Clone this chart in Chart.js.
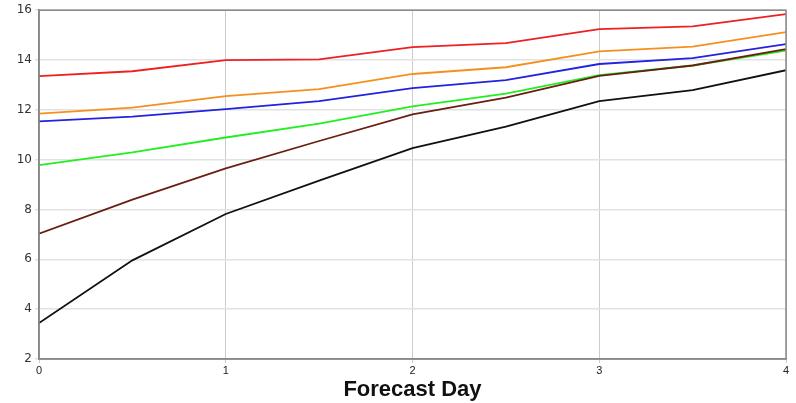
<!DOCTYPE html>
<html>
<head>
<meta charset="utf-8">
<script src="https://cdn.jsdelivr.net/npm/chart.js@4/dist/chart.umd.min.js"></script>
<style>
  html, body { margin: 0; padding: 0; background: #fff; }
  #wrap { width: 796px; height: 403px; }
</style>
</head>
<body>
<div id="wrap"><canvas id="myChart" width="796" height="403"></canvas></div>
<script>
const days = [0, 0.5, 1, 1.5, 2, 2.5, 3, 3.5, 4];
const redVals = [13.35, 13.55, 14.0, 14.03, 14.52, 14.68, 15.24, 15.35, 15.84];
const orangeVals = [11.85, 12.09, 12.55, 12.83, 13.44, 13.71, 14.35, 14.54, 15.12];
const blueVals = [11.54, 11.73, 12.03, 12.35, 12.87, 13.19, 13.84, 14.08, 14.64];
const greenVals = [9.78, 10.29, 10.89, 11.45, 12.14, 12.65, 13.39, 13.78, 14.38];
const brownVals = [7.03, 8.4, 9.65, 10.75, 11.82, 12.49, 13.36, 13.78, 14.44];
const blackVals = [3.44, 5.96, 7.82, 9.16, 10.46, 11.33, 12.35, 12.79, 13.59];

function pts(vals) {
  return vals.map((v, i) => ({ x: days[i], y: v }));
}

// frame around the plot area (top + right edges too)
const frame = {
  id: 'frame',
  afterDraw(chart) {
    const a = chart.chartArea;
    const ctx = chart.ctx;
    ctx.save();
    ctx.strokeStyle = '#888';
    ctx.lineWidth = 1.5;
    ctx.strokeRect(a.left, a.top, a.right - a.left, a.bottom - a.top);
    ctx.restore();
  }
};

const ctx = document.getElementById('myChart').getContext('2d');
const lineSet = (label, vals, color) => ({
  label: label,
  data: pts(vals),
  borderColor: color,
  borderWidth: 1.8,
  pointRadius: 0,
  tension: 0,
  fill: false
});

new Chart(ctx, {
  type: 'line',
  data: {
    datasets: [
      lineSet('black', blackVals, '#111111'),
      lineSet('brown', brownVals, '#6a1f14'),
      lineSet('green', greenVals, '#22ee22'),
      lineSet('blue', blueVals, '#2222e0'),
      lineSet('orange', orangeVals, '#f5901e'),
      lineSet('red', redVals, '#ee2020')
    ]
  },
  options: {
    responsive: false,
    animation: false,
    layout: { padding: { top: 9, right: 10, left: 0, bottom: 0 } },
    plugins: {
      legend: { display: false },
      tooltip: { enabled: false }
    },
    scales: {
      x: {
        type: 'linear',
        min: 0,
        max: 4,
        ticks: {
          stepSize: 1,
          color: '#222',
          font: { family: 'Liberation Sans', size: 11 },
          padding: 1,
          maxRotation: 0
        },
        grid: { color: '#cccccc', lineWidth: 1, tickLength: 4 },
        border: { color: '#888', width: 1.5 },
        title: {
          display: true,
          text: 'Forecast Day',
          color: '#111',
          font: { family: 'Liberation Sans', size: 22, weight: 'bold' },
          padding: { top: 0, bottom: 0 }
        },
        afterFit(axis) { axis.height = 44; }
      },
      y: {
        min: 2,
        max: 16,
        ticks: {
          stepSize: 2,
          color: '#333',
          font: { family: 'DejaVu Sans', size: 12 },
          padding: 3
        },
        grid: { color: '#e2e2e2', lineWidth: 1.5, tickLength: 4 },
        border: { color: '#888', width: 1.5 },
        afterFit(axis) { axis.width = 39; }
      }
    }
  },
  plugins: [frame]
});
</script>
</body>
</html>
